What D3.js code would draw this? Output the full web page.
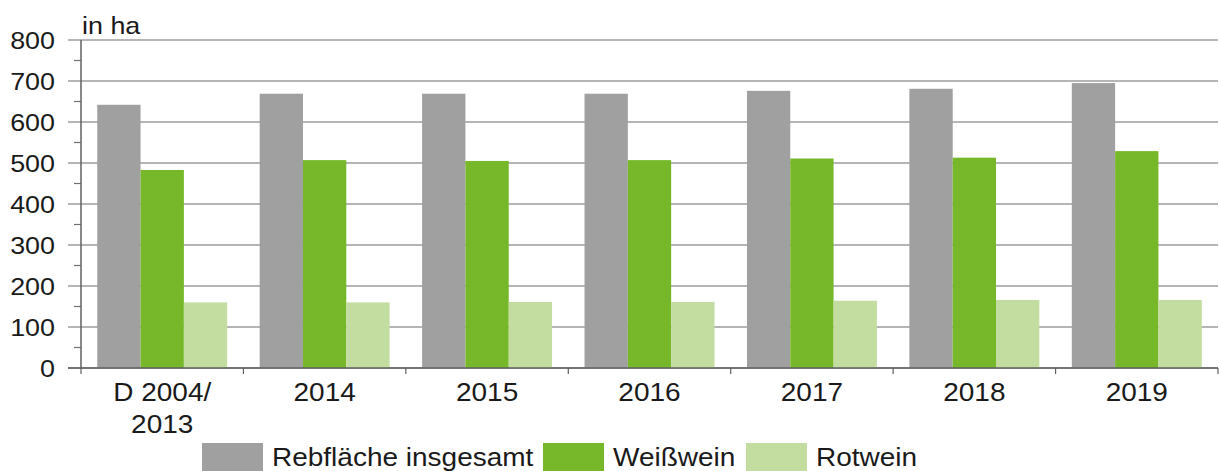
<!DOCTYPE html>
<html>
<head>
<meta charset="utf-8">
<script src="https://cdn.jsdelivr.net/npm/d3@7"></script>
<style>
  body { margin: 0; background: #fff; }
  svg { font-family: "Liberation Sans", Arial, sans-serif; }
  text { fill: #1a1a1a; }
</style>
</head>
<body>
<svg width="1219" height="471"></svg>
<script>
// data
var categories = ['D 2004/|2013', '2014', '2015', '2016', '2017', '2018', '2019'];
var gesamt    = [642, 669, 669, 669, 676, 681, 695];
var weisswein = [483, 507, 505, 507, 511, 513, 529];
var rotwein   = [160, 160, 161, 161, 164, 166, 166];
var seriesNames = ['Rebfläche insgesamt', 'Weißwein', 'Rotwein'];
var colors = ['#a0a0a0', '#76b82a', '#c3dc9f'];
var yTicks = [0, 100, 200, 300, 400, 500, 600, 700, 800];

var stretch = 1.12; // the text in the original is a bit wide

var svg = d3.select('svg');
var margin = {left: 81, right: 1, top: 40, bottom: 103};
var width = 1219 - margin.left - margin.right;
var height = 471 - margin.top - margin.bottom;

var g = svg.append('g')
    .attr('transform', 'translate(' + margin.left + ',' + margin.top + ')');

var x = d3.scaleBand().domain(categories).range([0, width])
    .paddingInner(0.2).paddingOuter(0.1);
var xs = d3.scaleBand().domain(seriesNames).range([0, x.bandwidth()]);
var y = d3.scaleLinear().domain([0, 800]).range([height, 0]);

function wideText(sel, px, py) {
    return sel.attr('transform', function(d, i) {
        return 'translate(' + px(d, i) + ',' + py(d, i) + ') scale(' + stretch + ',1)';
    });
}

// gridlines
g.selectAll('.grid')
    .data(yTicks)
    .enter().append('line')
    .attr('x1', -13).attr('x2', width)
    .attr('y1', function(d) { return y(d); })
    .attr('y2', function(d) { return y(d); })
    .attr('stroke', '#9d9d9d').attr('stroke-width', 1.5);

// minor ticks at the 50s
g.selectAll('.minor')
    .data(d3.range(50, 800, 100))
    .enter().append('line')
    .attr('x1', -7).attr('x2', 0)
    .attr('y1', function(d) { return y(d); })
    .attr('y2', function(d) { return y(d); })
    .attr('stroke', '#707070').attr('stroke-width', 1.2);

// bars
var rows = categories.map(function(c, i) {
    return [gesamt[i], weisswein[i], rotwein[i]];
});
var groups = g.selectAll('.grp')
    .data(rows)
    .enter().append('g')
    .attr('transform', function(d, i) { return 'translate(' + x(categories[i]) + ',0)'; });
groups.selectAll('rect')
    .data(function(d) { return d; })
    .enter().append('rect')
    .attr('x', function(d, j) { return xs(seriesNames[j]); })
    .attr('width', xs.bandwidth())
    .attr('y', function(d) { return y(d); })
    .attr('height', function(d) { return height - y(d); })
    .attr('fill', function(d, j) { return colors[j]; });

// y axis line + labels
g.append('line')
    .attr('x1', 0).attr('x2', 0).attr('y1', 0).attr('y2', height)
    .attr('stroke', '#606060').attr('stroke-width', 1.5);
wideText(g.selectAll('.ylab').data(yTicks).enter().append('text'),
        function() { return -26; },
        function(d) { return y(d); })
    .attr('text-anchor', 'end')
    .attr('dy', '0.36em')
    .style('font-size', '24px')
    .text(function(d) { return d; });

// x axis
g.append('line')
    .attr('x1', -13).attr('x2', width).attr('y1', height).attr('y2', height)
    .attr('stroke', '#606060').attr('stroke-width', 1.5);
var step = x.step();
g.selectAll('.xtick')
    .data(d3.range(0, categories.length + 1))
    .enter().append('line')
    .attr('x1', function(d) { return d * step; })
    .attr('x2', function(d) { return d * step; })
    .attr('y1', height).attr('y2', height + 6)
    .attr('stroke', '#606060').attr('stroke-width', 1.2);

var xl = wideText(g.selectAll('.xlab').data(categories).enter().append('text'),
        function(d) { return x(d) + x.bandwidth() / 2; },
        function() { return height + 33; })
    .attr('text-anchor', 'middle')
    .style('font-size', '25px');
xl.selectAll('tspan')
    .data(function(d) { return d.split('|'); })
    .enter().append('tspan')
    .attr('x', 0)
    .attr('dy', function(d, i) { return i ? 32 : 0; })
    .text(function(d) { return d; });

// unit label
svg.append('text')
    .attr('transform', 'translate(82,34) scale(' + stretch + ',1)')
    .style('font-size', '24px')
    .text('in ha');

// legend
var legendX = [202, 543, 746];
var leg = svg.selectAll('.leg')
    .data(seriesNames)
    .enter().append('g')
    .attr('transform', function(d, i) { return 'translate(' + legendX[i] + ',443)'; });
leg.append('rect')
    .attr('width', 61).attr('height', 30)
    .attr('fill', function(d, i) { return colors[i]; });
leg.append('text')
    .attr('transform', 'translate(70,23) scale(' + stretch + ',1)')
    .style('font-size', '25px')
    .text(function(d) { return d; });
</script>
</body>
</html>
